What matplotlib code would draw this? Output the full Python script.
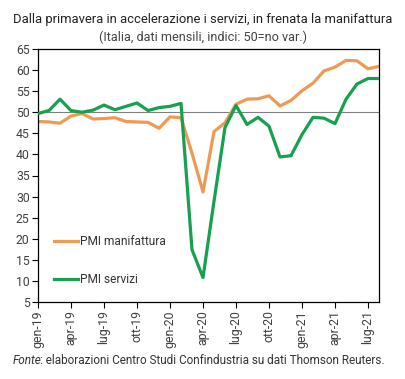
import numpy as np
import matplotlib.pyplot as plt

# dati PMI Italia, gen-19 .. ago-21
mesi = ['gen', 'feb', 'mar', 'apr', 'mag', 'giu', 'lug', 'ago', 'set', 'ott', 'nov', 'dic']
anni = ['19', '20', '21']
pmi_manifattura = [47.8, 47.7, 47.4, 49.1, 49.7, 48.4, 48.5, 48.7, 47.8, 47.7, 47.6, 46.2,
                   48.9, 48.7, 40.3, 31.1, 45.4, 47.5, 51.9, 53.1, 53.2, 53.9, 51.5, 52.8,
                   55.1, 56.9, 59.8, 60.7, 62.3, 62.2, 60.3, 60.9]
pmi_servizi = [49.7, 50.4, 53.1, 50.4, 50.0, 50.5, 51.7, 50.6, 51.4, 52.2, 50.4, 51.1,
               51.4, 52.1, 17.4, 10.8, 28.9, 46.4, 51.6, 47.1, 48.8, 46.7, 39.4, 39.7,
               44.7, 48.8, 48.6, 47.3, 53.1, 56.7, 58.0, 58.0]

etichette = [m + '-' + a for a in anni for m in mesi][:len(pmi_manifattura)]
x = np.arange(len(pmi_manifattura))

plt.rcParams['font.family'] = ['Roboto', 'DejaVu Sans']

fig = plt.figure(figsize=(4.06, 3.79), dpi=100)
ax = fig.add_axes([38 / 406, 1 - 302 / 379, (379 - 38) / 406, (302 - 49) / 379])

arancio = '#EE9A55'
verde = '#17A04F'
ax.axhline(50, color='#808080', lw=0.8, zorder=1)
ax.plot(x, pmi_manifattura, color=arancio, lw=2.3, label='PMI manifattura', zorder=2)
ax.plot(x, pmi_servizi, color=verde, lw=2.3, label='PMI servizi', zorder=3)

ax.set_xlim(0, len(x) - 1)
ax.set_ylim(5, 65)
ax.set_yticks(range(5, 66, 5))
ax.set_xticks(x[::3])
ax.set_xticklabels(etichette[::3], rotation=90)
ax.tick_params(labelsize=8.8, labelcolor='#404040', color='black', length=4, width=0.8, pad=2)
for s in ax.spines.values():
    s.set_linewidth(0.9)

ax.legend(loc='lower left', bbox_to_anchor=(0.015, 0.02), frameon=False,
          fontsize=8.6, handlelength=2.0, handletextpad=0.15, labelspacing=2.1,
          labelcolor='#333333')

fig.text(0.5, 1 - 20 / 379, 'Dalla primavera in accelerazione i servizi, in frenata la manifattura',
         ha='center', va='center', fontsize=9.4, color='#222222')
fig.text(0.5, 1 - 37 / 379, '(Italia, dati mensili, indici: 50=no var.)',
         ha='center', va='center', fontsize=9.1, color='#444444')

t1 = fig.text(13 / 406, 1 - 360 / 379, 'Fonte', style='italic', ha='left', va='center',
              fontsize=8.5, color='#333333')
fig.canvas.draw()
bb = t1.get_window_extent()
fig.text((bb.x1 - 2) / fig.bbox.width, 1 - 360 / 379,
         ': elaborazioni Centro Studi Confindustria su dati Thomson Reuters.',
         ha='left', va='center', fontsize=8.5, color='#333333')

fig.savefig('out.png', dpi=100)
